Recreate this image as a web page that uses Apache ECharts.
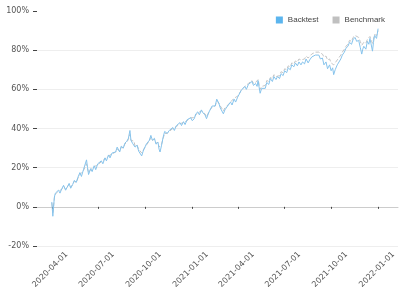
<!DOCTYPE html>
<html>
<head>
<meta charset="utf-8">
<script src="https://cdn.jsdelivr.net/npm/echarts@6/dist/echarts.min.js"></script>
<style>
  html, body { margin: 0; padding: 0; background: #fff; }
  #chart { width: 404px; height: 291px; }
</style>
</head>
<body>
<div id="chart"></div>
<script>
// values (cumulative return, %), one line per month
const dates = [
  '2020-04-01', '2020-04-02', '2020-04-03', '2020-04-06', '2020-04-08', '2020-04-10', '2020-04-14', '2020-04-17', '2020-04-21', '2020-04-24', '2020-04-28',
  '2020-05-01', '2020-05-05', '2020-05-08', '2020-05-12', '2020-05-15', '2020-05-19', '2020-05-22', '2020-05-26', '2020-05-29',
  '2020-06-02', '2020-06-05', '2020-06-08', '2020-06-10', '2020-06-12', '2020-06-16', '2020-06-19', '2020-06-23', '2020-06-26', '2020-06-30',
  '2020-07-03', '2020-07-07', '2020-07-10', '2020-07-14', '2020-07-17', '2020-07-21', '2020-07-24', '2020-07-28', '2020-07-31',
  '2020-08-04', '2020-08-07', '2020-08-12', '2020-08-15', '2020-08-19', '2020-08-22', '2020-08-26', '2020-08-29',
  '2020-09-01', '2020-09-03', '2020-09-06', '2020-09-09', '2020-09-11', '2020-09-15', '2020-09-18', '2020-09-21', '2020-09-24', '2020-09-27', '2020-09-30',
  '2020-10-03', '2020-10-06', '2020-10-09', '2020-10-12', '2020-10-15', '2020-10-19', '2020-10-22', '2020-10-26', '2020-10-28', '2020-10-30',
  '2020-11-02', '2020-11-05', '2020-11-08', '2020-11-10', '2020-11-13', '2020-11-17', '2020-11-20', '2020-11-24', '2020-11-27',
  '2020-12-01', '2020-12-04', '2020-12-08', '2020-12-11', '2020-12-15', '2020-12-18', '2020-12-22', '2020-12-25', '2020-12-29',
  '2021-01-01', '2021-01-05', '2021-01-08', '2021-01-12', '2021-01-15', '2021-01-19', '2021-01-22', '2021-01-26', '2021-01-29',
  '2021-02-02', '2021-02-05', '2021-02-09', '2021-02-12', '2021-02-15', '2021-02-18', '2021-02-22', '2021-02-25', '2021-02-28',
  '2021-03-03', '2021-03-06', '2021-03-10', '2021-03-13', '2021-03-17', '2021-03-20', '2021-03-24', '2021-03-27', '2021-03-31',
  '2021-04-03', '2021-04-07', '2021-04-10', '2021-04-14', '2021-04-17', '2021-04-21', '2021-04-24', '2021-04-28',
  '2021-05-01', '2021-05-05', '2021-05-08', '2021-05-10', '2021-05-12', '2021-05-14', '2021-05-17', '2021-05-20', '2021-05-24', '2021-05-27', '2021-05-31',
  '2021-06-03', '2021-06-07', '2021-06-10', '2021-06-14', '2021-06-17', '2021-06-21', '2021-06-24', '2021-06-28',
  '2021-07-01', '2021-07-05', '2021-07-08', '2021-07-12', '2021-07-15', '2021-07-19', '2021-07-22', '2021-07-26', '2021-07-29',
  '2021-08-02', '2021-08-05', '2021-08-09', '2021-08-12', '2021-08-16', '2021-08-19', '2021-08-23', '2021-08-26', '2021-08-30',
  '2021-09-02', '2021-09-06', '2021-09-09', '2021-09-13', '2021-09-16', '2021-09-20', '2021-09-23', '2021-09-27', '2021-09-30',
  '2021-10-03', '2021-10-05', '2021-10-08', '2021-10-12', '2021-10-15', '2021-10-19', '2021-10-22', '2021-10-26', '2021-10-29',
  '2021-11-02', '2021-11-05', '2021-11-09', '2021-11-12', '2021-11-16', '2021-11-19', '2021-11-23', '2021-11-26', '2021-11-29',
  '2021-12-01', '2021-12-03', '2021-12-07', '2021-12-10', '2021-12-13', '2021-12-15', '2021-12-17', '2021-12-20', '2021-12-22', '2021-12-24', '2021-12-28', '2021-12-31'
];

const backtest = [
  2.5, -1.0, -4.8, 5.0, 7.0, 6.0, 8.5, 7.0, 9.5, 11.0, 8.5,
  10.0, 12.0, 9.5, 11.5, 13.5, 12.5, 15.0, 17.5, 15.5,
  19.0, 18.0, 24.0, 20.0, 16.5, 19.5, 18.0, 21.0, 19.0, 22.0,
  21.0, 23.5, 22.0, 25.0, 23.5, 26.5, 25.0, 27.5, 26.5,
  28.0, 30.5, 28.0, 31.0, 30.0, 32.5, 33.5, 35.0,
  39.0, 34.0, 32.5, 33.5, 30.5, 31.5, 28.5, 29.5, 26.0, 28.5, 29.5,
  32.0, 31.0, 34.0, 36.5, 34.0, 35.0, 32.0, 33.0, 29.5, 28.0,
  31.5, 35.5, 38.5, 39.5, 37.5, 39.0, 38.0, 40.5, 39.0,
  41.5, 40.5, 43.0, 41.5, 43.5, 42.0, 44.5, 43.5, 45.5,
  44.0, 45.0, 47.5, 48.5, 47.0, 49.5, 48.0, 47.0, 45.0,
  48.0, 49.5, 51.5, 52.5, 51.5, 55.0, 53.0, 50.5, 51.5,
  47.5, 49.5, 51.0, 50.0, 53.5, 52.0, 55.0, 53.5, 56.0,
  57.0, 59.5, 58.5, 61.5, 60.0, 62.5, 61.5, 64.0,
  62.0, 63.0, 61.5, 64.5, 61.0, 58.0, 60.5, 61.5, 60.5, 63.5, 62.5,
  65.5, 64.0, 66.5, 65.0, 66.5, 65.5, 68.0, 67.0,
  69.5, 68.5, 71.0, 70.0, 72.5, 71.5, 73.5, 72.0, 74.0,
  72.5, 74.0, 73.0, 75.5, 73.5, 75.0, 76.5, 75.5, 77.5,
  76.5, 77.5, 75.5, 76.0, 72.5, 74.0, 70.5, 72.5, 69.5,
  71.0, 67.5, 70.0, 72.5, 71.5, 75.5, 77.5, 79.0, 81.0,
  82.0, 84.0, 83.0, 85.5, 86.5, 84.5, 85.0, 81.5, 78.0,
  80.5, 82.0, 80.5, 84.5, 83.0, 86.0, 83.5, 79.5, 84.0, 87.5, 86.0, 91.0
];

const benchmark = [
  2.0, -0.5, -3.5, 4.5, 6.5, 6.5, 8.0, 7.5, 9.0, 10.5, 9.0,
  10.0, 11.5, 10.0, 11.5, 13.0, 12.5, 14.5, 16.5, 15.5,
  18.5, 18.0, 22.0, 19.5, 17.5, 19.0, 18.5, 20.5, 19.5, 21.5,
  21.0, 23.0, 22.0, 24.5, 23.5, 26.0, 25.0, 27.0, 26.5,
  28.0, 29.5, 28.5, 30.5, 30.0, 32.0, 33.0, 34.5,
  37.0, 34.0, 33.0, 33.5, 31.0, 31.5, 29.5, 30.0, 27.5, 29.0, 29.5,
  31.5, 31.0, 33.5, 35.5, 34.0, 34.5, 32.5, 33.0, 30.5, 29.5,
  32.0, 35.0, 37.5, 38.5, 37.5, 38.5, 38.0, 40.0, 39.5,
  41.0, 40.5, 42.5, 42.0, 43.0, 42.5, 44.0, 44.0, 45.5,
  44.5, 45.5, 47.0, 48.0, 47.5, 49.0, 48.5, 47.5, 46.0,
  48.0, 49.5, 51.0, 52.0, 51.5, 54.0, 53.0, 51.5, 52.0,
  49.0, 50.5, 51.5, 51.0, 53.5, 53.0, 55.5, 54.5, 56.5,
  57.5, 59.5, 59.5, 61.5, 61.0, 63.0, 62.5, 64.5,
  63.0, 63.5, 63.0, 65.0, 62.5, 60.0, 61.5, 62.5, 62.0, 64.5, 64.0,
  66.0, 65.5, 67.5, 66.5, 67.5, 67.0, 69.0, 68.5,
  70.5, 70.0, 72.0, 71.5, 73.5, 73.0, 74.5, 74.0, 75.5,
  75.0, 75.5, 75.5, 77.0, 76.0, 77.0, 78.0, 77.5, 79.0,
  78.5, 79.0, 78.0, 78.0, 76.5, 77.0, 75.0, 75.5, 73.5,
  74.0, 72.5, 73.5, 75.0, 74.5, 77.5, 79.0, 80.5, 82.0,
  83.0, 85.0, 84.5, 86.5, 87.5, 86.5, 86.5, 84.5, 82.5,
  83.5, 84.0, 83.5, 85.5, 85.0, 87.0, 85.5, 83.5, 85.5, 88.0, 87.5, 90.0
];

// quarter ticks shown on the x axis
const xTickLabels = [
  '2020-04-01', '2020-07-01', '2020-10-01', '2021-01-01',
  '2021-04-01', '2021-07-01', '2021-10-01', '2022-01-01'
];
const yTicks = [-20, 0, 20, 40, 60, 80, 100];
const seriesNames = ['Backtest', 'Benchmark'];

const DAY = 24 * 3600 * 1000;

function toTime(s) {
  const p = s.split('-');
  return new Date(+p[0], +p[1] - 1, +p[2]).getTime();
}

function pad(n) {
  return n < 10 ? '0' + n : '' + n;
}

const chart = echarts.init(document.getElementById('chart'));

const option = {
  animation: false,
  grid: { left: 37, right: 6, top: 11, bottom: 44 },
  legend: {
    data: seriesNames,
    top: 11,
    right: 14,
    icon: 'rect',
    itemWidth: 7,
    itemHeight: 7,
    itemGap: 14,
    textStyle: { fontSize: 8, color: '#444', fontFamily: 'Liberation Sans' }
  },
  xAxis: {
    type: 'time',
    min: toTime('2020-03-03'),
    max: toTime('2022-02-08'),
    minInterval: 85 * DAY,
    maxInterval: 95 * DAY,
    axisLine: { lineStyle: { color: '#ccc' } },
    axisTick: { show: true, length: 2, lineStyle: { color: '#444' } },
    splitLine: { show: false },
    axisLabel: {
      rotate: 45,
      fontSize: 8,
      color: '#555',
      fontFamily: 'DejaVu Sans',
      hideOverlap: false,
      margin: 22,
      padding: [0, -21, 0, 0],
      formatter: function (v) {
        const d = new Date(v);
        const s = d.getFullYear() + '-' + pad(d.getMonth() + 1) + '-' + pad(d.getDate());
        return xTickLabels.indexOf(s) >= 0 ? s : '';
      }
    }
  },
  yAxis: {
    type: 'value',
    min: yTicks[0],
    max: yTicks[yTicks.length - 1],
    interval: 20,
    axisLine: { show: false },
    axisTick: { show: true, length: 4, lineStyle: { color: '#444' } },
    splitLine: { show: true, showMaxLine: false, lineStyle: { color: '#eee' } },
    axisLabel: {
      formatter: '{value}%',
      fontSize: 8,
      margin: 8,
      color: '#555',
      fontFamily: 'DejaVu Sans'
    }
  },
  series: [
    {
      name: seriesNames[0],
      type: 'line',
      showSymbol: false,
      data: dates.map((d, i) => [toTime(d), backtest[i]]),
      itemStyle: { color: '#5bb5ee' },
      lineStyle: { color: '#86c3ec', width: 1 },
      z: 3
    },
    {
      name: seriesNames[1],
      type: 'line',
      showSymbol: false,
      data: dates.map((d, i) => [toTime(d), benchmark[i]]),
      itemStyle: { color: '#c0c0c0' },
      lineStyle: { color: '#c4c4c4', width: 1, type: 'dashed' },
      z: 2
    }
  ]
};

chart.setOption(option);
</script>
</body>
</html>
